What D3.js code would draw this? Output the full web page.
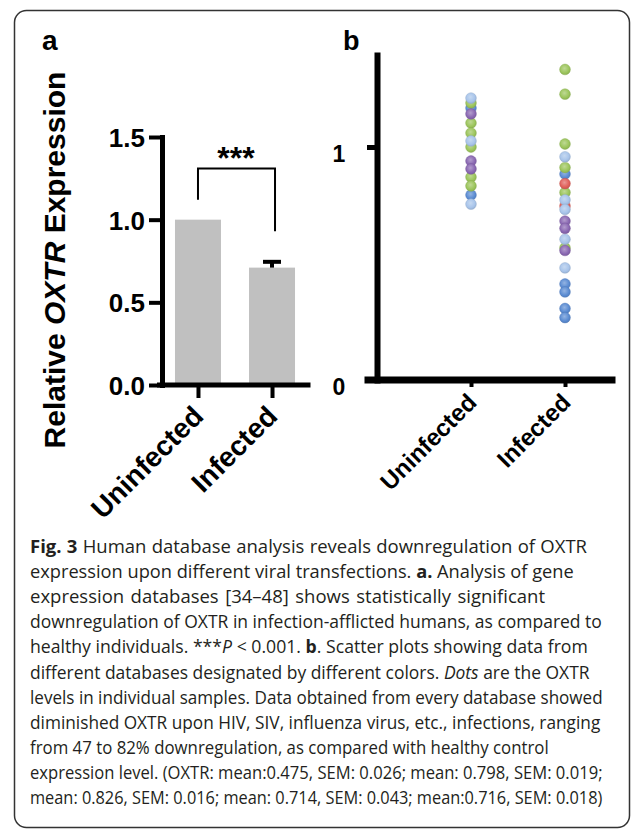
<!DOCTYPE html>
<html lang="en">
<head>
    <meta charset="UTF-8">
    <title>OXTR expression</title>
    <script type="text/javascript" src="https://cdnjs.cloudflare.com/ajax/libs/d3/7.8.5/d3.min.js"></script>
    <style>
        body { margin: 0; background: #fff; }
        svg text { font-family: "Liberation Sans", Arial, sans-serif; }
        svg text.cap { font-family: "Open Sans", sans-serif; fill: #231f20; }
    </style>
</head>
<body>
<div id="draw-here"></div>
<script>
/* global d3 */

// panel a - bar chart
var barCats = ["Uninfected", "Infected"];
var barValues = [1.0, 0.71];
var barErrors = [0, 0.035];
var barTicks = [0, 0.5, 1.0, 1.5];

// panel b - one dot per sample, colour = database
var dotCats = ["Uninfected", "Infected"];
var uninfValues = [1.210, 1.189, 1.167, 1.142, 1.103, 1.060, 1.026, 1.000, 0.940, 0.906, 0.871, 0.833, 0.794, 0.755];
var uninfDb     = ["db4", "db3", "db1", "db5", "db3", "db3", "db4", "db3", "db5", "db5", "db3", "db3", "db1", "db4"];
var infValues = [1.333, 1.227, 1.013, 0.958, 0.912, 0.884, 0.843, 0.805, 0.773, 0.747, 0.732, 0.682, 0.651, 0.604, 0.567, 0.556, 0.481, 0.412, 0.378, 0.307, 0.268];
var infDb     = ["db3", "db3", "db3", "db4", "db3", "db1", "db2", "db3", "db4", "db2", "db4", "db5", "db5", "db4", "db3", "db5", "db4", "db1", "db1", "db1", "db1"];
var dotTicks = [0, 1];

// drawing order (later ones on top) and colours of the databases
var dbOrder = ["db1", "db3", "db2", "db4", "db5"];
var dbColors = { db1: "#5b8cd2", db2: "#e0605a", db3: "#9cc55c", db4: "#a8c4ea", db5: "#8a68b2" };

// caption lines, [text, style] runs
var captionLines = [
    [["Fig. 3", "b"], [" Human database analysis reveals downregulation of OXTR"]],
    [["expression upon different viral transfections. "], ["a.", "b"], [" Analysis of gene"]],
    [["expression databases [34\u201348] shows statistically significant"]],
    [["downregulation of OXTR in infection-afflicted humans, as compared to"]],
    [["healthy individuals. ***"], ["P", "i"], [" < 0.001. "], ["b", "b"], [". Scatter plots showing data from"]],
    [["different databases designated by different colors. "], ["Dots", "i"], [" are the OXTR"]],
    [["levels in individual samples. Data obtained from every database showed"]],
    [["diminished OXTR upon HIV, SIV, influenza virus, etc., infections, ranging"]],
    [["from 47 to 82% downregulation, as compared with healthy control"]],
    [["expression level. (OXTR: mean:0.475, SEM: 0.026; mean: 0.798, SEM: 0.019;"]],
    [["mean: 0.826, SEM: 0.016; mean: 0.714, SEM: 0.043; mean:0.716, SEM: 0.018)"]]
];
// right edge each caption line reaches in the figure
var captionEnds = [587, 574, 545, 602, 588, 590, 603, 601, 549, 603, 603];

var w = 633;
var h = 829;

var svg = d3.select("#draw-here")
    .append("svg")
    .attr("width", w)
    .attr("height", h);

// frame round the whole figure
svg.append("rect")
    .attr("x", 14.5).attr("y", 10.5)
    .attr("width", 615).attr("height", 817)
    .attr("rx", 12)
    .attr("fill", "none")
    .attr("stroke", "#333")
    .attr("stroke-width", 1.5);

draw_panel_a();
draw_panel_b();
draw_caption();

function draw_panel_a() {
    var yA = d3.scaleLinear().domain([0, 1.5]).range([385, 137]);
    var xA = d3.scalePoint().domain(barCats).range([162, 308]).padding(0.486);
    var barW = 46;

    svg.append("text").text("a")
        .attr("x", 42).attr("y", 50)
        .attr("font-size", 28).attr("font-weight", "bold");

    // y title
    var title = svg.append("text")
        .attr("transform", "translate(65,260) rotate(-90)")
        .attr("text-anchor", "middle")
        .attr("font-size", 30).attr("font-weight", "bold");
    title.append("tspan").text("Relative ");
    title.append("tspan").text("OXTR").attr("font-style", "italic");
    title.append("tspan").text(" Expression");

    // bars
    svg.selectAll("rect.bar")
        .data(barValues)
        .enter().append("rect")
        .attr("class", "bar")
        .attr("x", function(d, i) { return xA(barCats[i]) - barW / 2; })
        .attr("y", function(d) { return yA(d); })
        .attr("width", barW)
        .attr("height", function(d) { return yA(0) - yA(d); })
        .attr("fill", "#c0c0c0");

    // upper error bars only
    barValues.forEach(function(d, i) {
        if (!barErrors[i]) return;
        var cx = xA(barCats[i]);
        svg.append("line")
            .attr("x1", cx).attr("x2", cx)
            .attr("y1", yA(d)).attr("y2", yA(d + barErrors[i]))
            .attr("stroke", "#000").attr("stroke-width", 4);
        svg.append("line")
            .attr("x1", cx - 9).attr("x2", cx + 9)
            .attr("y1", yA(d + barErrors[i])).attr("y2", yA(d + barErrors[i]))
            .attr("stroke", "#000").attr("stroke-width", 4);
    });

    // significance bracket
    var bTop = 1.31, bLeft = 1.12, bRight = 0.93;
    svg.append("path")
        .attr("d", "M" + xA(barCats[0]) + "," + yA(bLeft) +
                   "V" + yA(bTop) + "H" + (xA(barCats[1]) + 3) + "V" + yA(bRight))
        .attr("fill", "none").attr("stroke", "#000").attr("stroke-width", 2);
    svg.append("text").text("***")
        .attr("x", (xA(barCats[0]) + xA(barCats[1])) / 2 + 1)
        .attr("y", yA(bTop) + 1)
        .attr("text-anchor", "middle")
        .attr("font-size", 32).attr("font-weight", "bold");

    // axes
    var yAxis = svg.append("g")
        .attr("transform", "translate(162,0)")
        .call(d3.axisLeft(yA).tickValues(barTicks).tickFormat(d3.format(".1f"))
            .tickSize(13).tickSizeOuter(0).tickPadding(4));
    style_axis(yAxis, 5, 4, 26);
    yAxis.selectAll("text").attr("dy", "0.36em");

    var xAxis = svg.append("g")
        .attr("transform", "translate(0,385)")
        .call(d3.axisBottom(xA).tickSize(13).tickSizeOuter(0).tickFormat(""));
    style_axis(xAxis, 5, 4, 26);
    xAxis.select(".domain").attr("d", "M159.5,0H308");

    svg.selectAll("text.xlabA")
        .data(barCats)
        .enter().append("text")
        .attr("class", "xlabA")
        .attr("transform", function(d) { return "translate(" + (xA(d) + 7) + ",418) rotate(-45)"; })
        .attr("text-anchor", "end")
        .attr("font-size", 28).attr("font-weight", "bold")
        .text(function(d) { return d; });
}

function draw_panel_b() {
    var yB = d3.scaleLinear().domain([0, 1.395]).range([380, 55]);
    var xB = d3.scalePoint().domain(dotCats).range([471, 565]);

    svg.append("text").text("b")
        .attr("x", 343).attr("y", 50)
        .attr("font-size", 27).attr("font-weight", "bold");

    // gradients for the glossy markers
    var defs = svg.append("defs");
    Object.keys(dbColors).forEach(function(k) {
        var c = d3.color(dbColors[k]);
        var g = defs.append("radialGradient").attr("id", "grad-" + k)
            .attr("cx", "45%").attr("cy", "40%").attr("r", "60%");
        g.append("stop").attr("offset", "0%").attr("stop-color", d3.interpolateRgb(c, "#fff")(0.35));
        g.append("stop").attr("offset", "70%").attr("stop-color", c.formatHex());
        g.append("stop").attr("offset", "100%").attr("stop-color", c.darker(0.3).formatHex());
    });

    // axes
    var yAxis = svg.append("g")
        .attr("transform", "translate(377,0)")
        .call(d3.axisLeft(yB).tickValues(dotTicks).tickFormat(d3.format("d"))
            .tickSize(10).tickSizeOuter(0));
    style_axis(yAxis, 6, 5, 23);
    yAxis.selectAll(".tick text")
        .attr("text-anchor", "middle")
        .attr("x", -38).attr("dx", 0).attr("dy", "14px");

    var xAxis = svg.append("g")
        .attr("transform", "translate(0,380)")
        .call(d3.axisBottom(xB).tickSize(7).tickSizeOuter(0).tickFormat(""));
    style_axis(xAxis, 7, 4, 23);
    xAxis.select(".domain").attr("d", "M368,0H612");

    svg.selectAll("text.xlabB")
        .data(dotCats)
        .enter().append("text")
        .attr("class", "xlabB")
        .attr("transform", function(d) { return "translate(" + (xB(d) + 7) + ",404) rotate(-45)"; })
        .attr("text-anchor", "end")
        .attr("font-size", 24).attr("font-weight", "bold")
        .text(function(d) { return d; });

    // build point list, then sort by database drawing order
    var pts = [];
    uninfValues.forEach(function(v, i) { pts.push({ cat: dotCats[0], v: v, db: uninfDb[i] }); });
    infValues.forEach(function(v, i) { pts.push({ cat: dotCats[1], v: v, db: infDb[i] }); });
    pts.sort(function(a, b) { return dbOrder.indexOf(a.db) - dbOrder.indexOf(b.db); });

    svg.append("g").selectAll("circle")
        .data(pts)
        .enter().append("circle")
        .attr("cx", function(d) { return xB(d.cat); })
        .attr("cy", function(d) { return yB(d.v); })
        .attr("r", 5.4)
        .attr("fill", function(d) { return "url(#grad-" + d.db + ")"; })
        .attr("stroke", function(d) { return d3.color(dbColors[d.db]).darker(0.4).formatHex(); })
        .attr("stroke-opacity", 0.6)
        .attr("stroke-width", 0.7);
}

function style_axis(g, domainW, tickW, fontSize) {
    g.select(".domain").attr("stroke", "#000").attr("stroke-width", domainW).attr("stroke-linecap", "square");
    g.selectAll(".tick line").attr("stroke", "#000").attr("stroke-width", tickW);
    g.selectAll(".tick text")
        .attr("fill", "#000")
        .attr("font-family", "'Liberation Sans', Arial, sans-serif")
        .attr("font-size", fontSize)
        .attr("font-weight", "bold");
}

// caption: natural width, then squeeze (scaleX) or widen word gaps to reach the line end
function draw_caption() {
    var x0 = 30, y0 = 553, lineH = 25.1;
    captionLines.forEach(function(runs, i) {
        var t = svg.append("text")
            .attr("class", "cap")
            .attr("x", 0).attr("y", 0)
            .attr("font-size", 18.5);
        runs.forEach(function(r) {
            var s = t.append("tspan").text(r[0]);
            if (r[1] === "b") s.attr("font-weight", "bold");
            if (r[1] === "i") s.attr("font-style", "italic");
        });
        var target = captionEnds[i] - x0;
        var len = t.node().getComputedTextLength();
        var k = 1;
        if (len > target) {
            k = target / len;
        } else {
            var spaces = runs.map(function(r) { return r[0]; }).join("").split(" ").length - 1;
            t.attr("word-spacing", (target - len) / spaces);
        }
        t.attr("transform", "translate(" + x0 + "," + (y0 + i * lineH) + ") scale(" + k + ",1)");
    });
}
</script>
</body>
</html>
